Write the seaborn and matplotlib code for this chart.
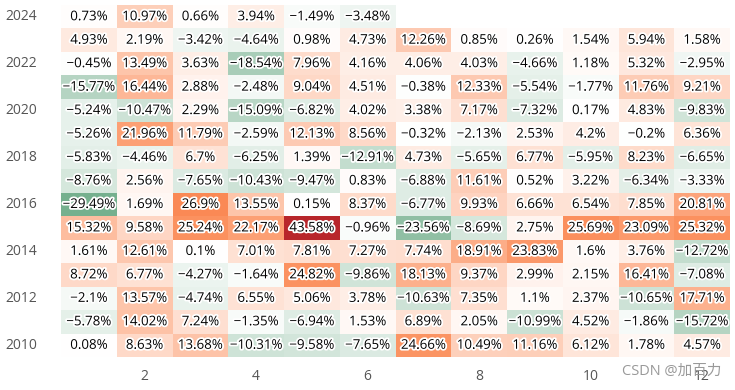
import numpy as np
import pandas as pd
import matplotlib
matplotlib.use("Agg")
import matplotlib.pyplot as plt
import matplotlib.patheffects as pe
from matplotlib.colors import LinearSegmentedColormap
import seaborn as sns

# ---------------------------------------------------------------------------
# Data: monthly returns (%), rows = years (newest first), cols = months
# ---------------------------------------------------------------------------
YEARS  = list(range(2024, 2009, -1))
MONTHS = list(range(1, 13))
nan = np.nan

R2024 = [0.73, 10.97, 0.66, 3.94, -1.49, -3.48, nan, nan, nan, nan, nan, nan]
R2023 = [4.93, 2.19, -3.42, -4.64, 0.98, 4.73, 12.26, 0.85, 0.26, 1.54, 5.94, 1.58]
R2022 = [-0.45, 13.49, 3.63, -18.54, 7.96, 4.16, 4.06, 4.03, -4.66, 1.18, 5.32, -2.95]
R2021 = [-15.77, 16.44, 2.88, -2.48, 9.04, 4.51, -0.38, 12.33, -5.54, -1.77, 11.76, 9.21]
R2020 = [-5.24, -10.47, 2.29, -15.09, -6.82, 4.02, 3.38, 7.17, -7.32, 0.17, 4.83, -9.83]
R2019 = [-5.26, 21.96, 11.79, -2.59, 12.13, 8.56, -0.32, -2.13, 2.53, 4.2, -0.2, 6.36]
R2018 = [-5.83, -4.46, 6.7, -6.25, 1.39, -12.91, 4.73, -5.65, 6.77, -5.95, 8.23, -6.65]
R2017 = [-8.76, 2.56, -7.65, -10.43, -9.47, 0.83, -6.88, 11.61, 0.52, 3.22, -6.34, -3.33]
R2016 = [-29.49, 1.69, 26.9, 13.55, 0.15, 8.37, -6.77, 9.93, 6.66, 6.54, 7.85, 20.81]
R2015 = [15.32, 9.58, 25.24, 22.17, 43.58, -0.96, -23.56, -8.69, 2.75, 25.69, 23.09, 25.32]
R2014 = [1.61, 12.61, 0.1, 7.01, 7.81, 7.27, 7.74, 18.91, 23.83, 1.6, 3.76, -12.72]
R2013 = [8.72, 6.77, -4.27, -1.64, 24.82, -9.86, 18.13, 9.37, 2.99, 2.15, 16.41, -7.08]
R2012 = [-2.1, 13.57, -4.74, 6.55, 5.06, 3.78, -10.63, 7.35, 1.1, 2.37, -10.65, 17.71]
R2011 = [-5.78, 14.02, 7.24, -1.35, -6.94, 1.53, 6.89, 2.05, -10.99, 4.52, -1.86, -15.72]
R2010 = [0.08, 8.63, 13.68, -10.31, -9.58, -7.65, 24.66, 10.49, 11.16, 6.12, 1.78, 4.57]

XTICK_MONTHS = [2, 4, 6, 8, 10, 12]

# ---------------------------------------------------------------------------
# Style
# ---------------------------------------------------------------------------
TEXT_COL = "#555555"
CMAP = LinearSegmentedColormap.from_list(
    "gn_w_or",
    [(0.0, "#348a58"), (0.5, "#ffffff"), (0.81, "#fb8a55"), (1.0, "#b8262b")],
)


def fmt_pct(v):
    if np.isnan(v):
        return ""
    return f"{round(v, 2)}%".replace("-", "\u2212")


def main():
    rows = [R2024, R2023, R2022, R2021, R2020, R2019, R2018, R2017,
            R2016, R2015, R2014, R2013, R2012, R2011, R2010]
    df = pd.DataFrame(rows, index=YEARS, columns=MONTHS)
    labels = df.map(fmt_pct).values

    sns.set_style("white")
    plt.rcParams["font.family"] = ["Open Sans", "Noto Sans CJK SC", "DejaVu Sans"]

    fig, ax = plt.subplots(figsize=(7.35, 3.9), dpi=100)
    fig.subplots_adjust(left=61 / 735, right=730 / 735, top=1 - 5 / 390, bottom=1 - 357 / 390)

    sns.heatmap(
        df, ax=ax, cmap=CMAP, center=0, cbar=False,
        annot=labels, fmt="",
        annot_kws={"color": "black", "fontsize": 9.6,
                   "path_effects": [pe.withStroke(linewidth=2.6, foreground="white")]},
        xticklabels=False, yticklabels=2,
    )

    xpos = [df.columns.get_loc(m) + 0.5 for m in XTICK_MONTHS]
    ax.set_xticks(xpos)
    ax.set_xticklabels([str(m) for m in XTICK_MONTHS])
    ax.set_xlabel("")
    ax.set_ylabel("")
    ax.tick_params(axis="x", length=0, pad=9, colors=TEXT_COL, labelsize=10)
    ax.tick_params(axis="y", length=0, pad=17, colors=TEXT_COL, labelsize=10, rotation=0)
    for lab in ax.get_yticklabels():
        lab.set_horizontalalignment("right")

    fig.text(0.982, 0.028, "CSDN @加百力", ha="right", va="bottom",
             color="#999999", fontsize=10.5)

    fig.savefig("out.png", dpi=100)
    plt.close(fig)


if __name__ == "__main__":
    main()
